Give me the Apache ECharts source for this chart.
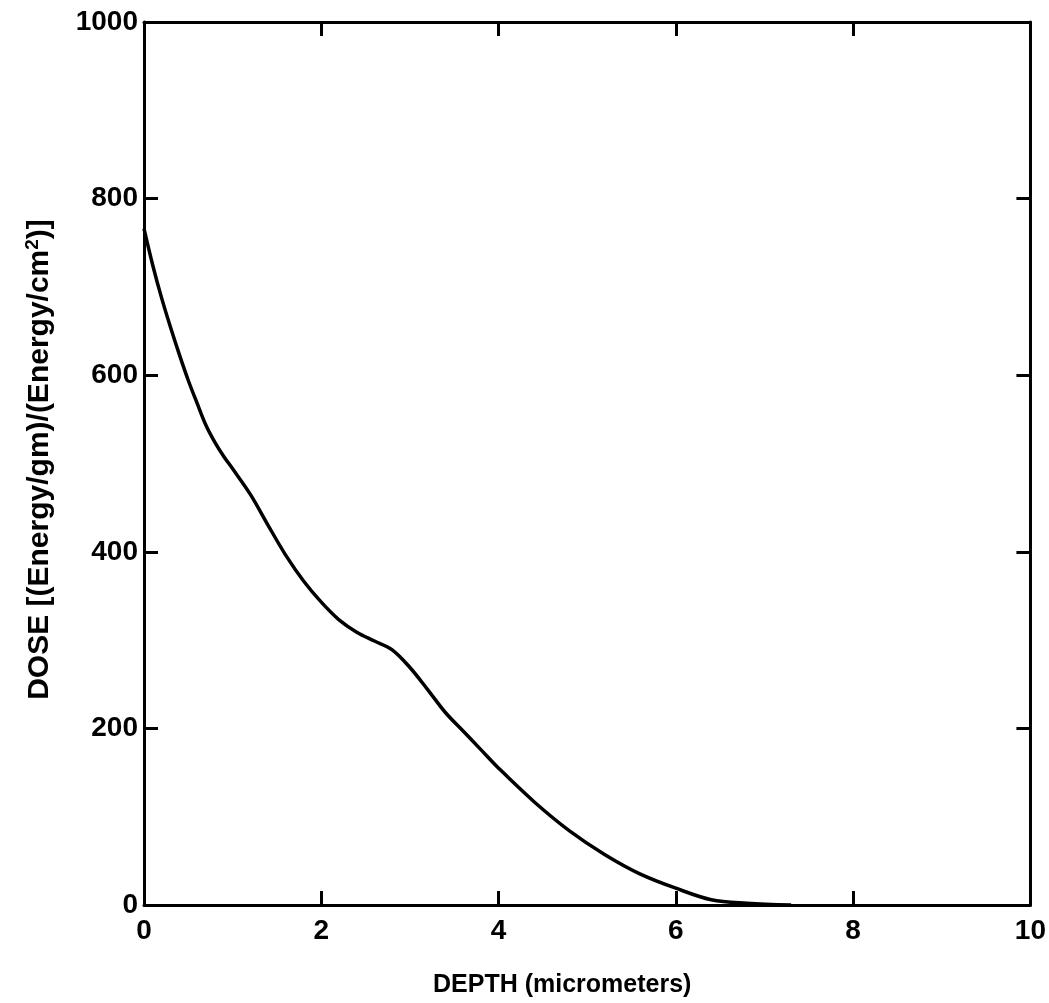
<!DOCTYPE html>
<html>
<head>
<meta charset="utf-8">
<script src="https://cdn.jsdelivr.net/npm/echarts@6/dist/echarts.min.js"></script>
<style>
html,body{margin:0;padding:0;background:#fff;}
#chart{width:1049px;height:1003px;}
</style>
</head>
<body>
<div id="chart"></div>
<script>
const depth = [0, 0.1, 0.2, 0.3, 0.4, 0.5, 0.6, 0.7, 0.8, 0.9, 1.0, 1.2, 1.4, 1.6, 1.8, 2.0, 2.2, 2.4, 2.6, 2.8, 3.0, 3.2, 3.4, 3.6, 3.8, 4.0, 4.4, 4.8, 5.2, 5.6, 6.0, 6.4, 6.8, 7.3];
const dose  = [766, 724, 687, 654, 623, 594, 568, 543, 524, 508, 494, 465, 430, 396, 367, 343, 323, 309, 299, 289, 269, 244, 218, 197, 176, 155, 117, 84, 57, 35, 19, 6, 2, 0];
const xTicks = [0, 2, 4, 6, 8, 10];
const yTicks = [0, 200, 400, 600, 800, 1000];

const FONT = '"Liberation Sans", "DejaVu Sans", sans-serif';
const axisLine = {show: true, onZero: false, lineStyle: {color: '#000', width: 3}};
const tick = {show: true, inside: true, length: 14, lineStyle: {color: '#000', width: 3}};

const chart = echarts.init(document.getElementById('chart'));
chart.setOption({
  backgroundColor: '#fff',
  animation: false,
  grid: {left: 144, right: 10, top: 22, bottom: 97},
  xAxis: [{
    type: 'value', min: 0, max: 10, interval: 2, position: 'bottom',
    axisLine: axisLine, axisTick: tick, splitLine: {show: false},
    axisLabel: {color: '#000', fontSize: 28, fontWeight: 'bold', fontFamily: FONT, margin: 12,
      formatter: v => xTicks.includes(v) ? String(v) : ''},
    name: 'DEPTH (micrometers)', nameLocation: 'middle', nameGap: 68,
    nameTextStyle: {color: '#000', fontSize: 25, fontWeight: 'bold', fontFamily: FONT, padding: [0, 50, 0, 0]}
  }, {
    type: 'value', min: 0, max: 10, interval: 2, position: 'top',
    axisLine: axisLine, axisTick: tick, axisLabel: {show: false}, splitLine: {show: false}
  }],
  yAxis: [{
    type: 'value', min: 0, max: 1000, interval: 200, position: 'left',
    axisLine: axisLine, axisTick: tick, splitLine: {show: false},
    axisLabel: {color: '#000', fontSize: 28, fontWeight: 'bold', fontFamily: FONT, margin: 6,
      formatter: v => yTicks.includes(v) ? String(v) : ''},
    name: 'DOSE [(Energy/gm)/(Energy/cm{sup|2})]', nameLocation: 'middle', nameGap: 88,
    nameTextStyle: {color: '#000', fontSize: 30, fontWeight: 'bold', fontFamily: FONT, padding: [0, 0, 0, 8],
      rich: {sup: {fontSize: 19, fontWeight: 'bold', fontFamily: FONT, verticalAlign: 'top', padding: [0, 0, 14, 0]}}}
  }, {
    type: 'value', min: 0, max: 1000, interval: 200, position: 'right',
    axisLine: axisLine, axisTick: tick, axisLabel: {show: false}, splitLine: {show: false}
  }],
  series: [{
    type: 'line',
    data: depth.map((d, i) => [d, dose[i]]),
    smooth: 0.35,
    showSymbol: false,
    symbol: 'none',
    lineStyle: {color: '#000', width: 3.5}
  }]
});
</script>
</body>
</html>
